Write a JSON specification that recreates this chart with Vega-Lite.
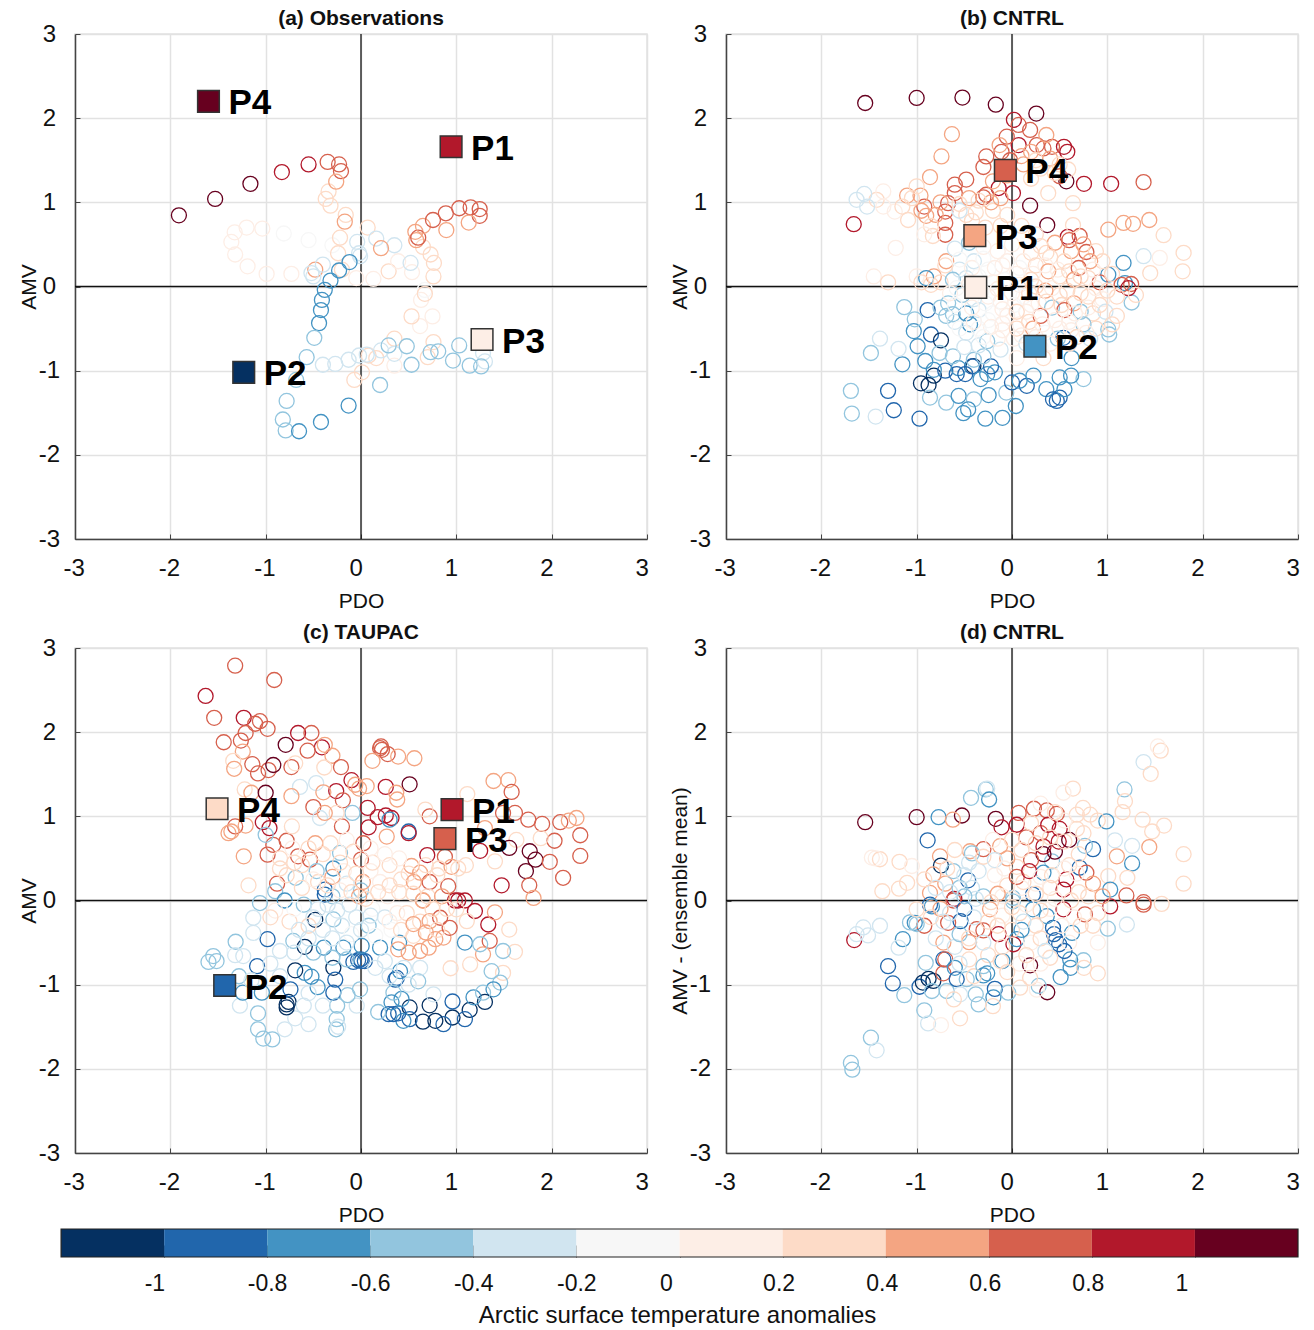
{
"$schema":"https://vega.github.io/schema/vega-lite/v6.json",
"padding":{"left":17,"top":7,"right":0,"bottom":0},
"autosize":{"type":"pad"},
"background":"white",
"config":{"font":"Liberation Sans","view":{"stroke":"#e2e2e2","strokeWidth":1.5},
"axis":{"grid":true,"gridColor":"#e2e2e2","gridWidth":1.5,"domain":true,"domainColor":"#444","domainWidth":1.5,"tickColor":"#444","tickSize":-5,"labelFontSize":24,"labelColor":"#111","titleFontSize":21,"titleFontWeight":"normal","titleColor":"#111","labelFont":"Liberation Sans","titleFont":"Liberation Sans","labelExpr":"''+datum.value"},
"axisX":{"labelAlign":"left","labelOffset":-12,"labelPadding":22,"titlePadding":10,"labelBaseline":"top"},
"axisY":{"labelAlign":"center","labelPadding":31,"titlePadding":-1,"labelBaseline":"middle"},
"title":{"font":"Liberation Sans","fontSize":21,"fontWeight":"bold","color":"#111","offset":-7}},
"datasets":{
"a":[
{"x":-1.325,"y":0.644,"t":0.1},{"x":-1.2,"y":0.7,"t":0.1},{"x":-1.035,"y":0.688,"t":0.1},{"x":-0.81,"y":0.63,"t":-0.1},{"x":-0.55,"y":0.55,"t":-0.1},{"x":-1.36,"y":0.53,"t":0.1},{"x":-1.32,"y":0.38,"t":0.1},{"x":-1.19,"y":0.24,"t":0.1},{"x":-0.99,"y":0.15,"t":0.1},{"x":-0.73,"y":0.15,"t":0.1},
{"x":-0.3,"y":0.49,"t":-0.1},{"x":-0.05,"y":0.1,"t":0.1},{"x":0.13,"y":0.09,"t":0.1},{"x":0.29,"y":0.18,"t":0.3},{"x":0.39,"y":0.3,"t":0.1},{"x":0.535,"y":0.17,"t":0.1},{"x":0.07,"y":0.7,"t":0.3},{"x":0.16,"y":0.57,"t":-0.3},{"x":0.35,"y":0.49,"t":-0.3},{"x":0.52,"y":0.28,"t":-0.3},
{"x":-0.34,"y":1.13,"t":0.3},{"x":-0.37,"y":1.04,"t":0.3},{"x":-0.32,"y":0.96,"t":0.3},{"x":-0.16,"y":0.85,"t":0.3},{"x":-0.22,"y":0.58,"t":0.3},{"x":-0.24,"y":0.395,"t":0.3},{"x":-0.2,"y":0.2,"t":0.3},{"x":-0.48,"y":0.2,"t":0.5},{"x":-0.5,"y":0.12,"t":-0.3},{"x":-0.52,"y":0.16,"t":-0.3},{"x":-0.4,"y":0.26,"t":-0.3},
{"x":-0.04,"y":0.53,"t":-0.3},{"x":-0.02,"y":0.395,"t":-0.3},{"x":-0.01,"y":0.36,"t":-0.3},
{"x":-0.12,"y":0.29,"t":-0.7},{"x":-0.23,"y":0.19,"t":-0.7},{"x":-0.32,"y":0.07,"t":-0.7},{"x":-0.38,"y":-0.04,"t":-0.7},{"x":-0.41,"y":-0.16,"t":-0.7},{"x":-0.42,"y":-0.28,"t":-0.7},{"x":-0.44,"y":-0.435,"t":-0.7},{"x":-0.49,"y":-0.61,"t":-0.5},{"x":-0.57,"y":-0.84,"t":-0.5},{"x":-0.68,"y":-1.11,"t":-0.5},{"x":-0.78,"y":-1.36,"t":-0.5},{"x":-0.82,"y":-1.58,"t":-0.5},{"x":-0.79,"y":-1.71,"t":-0.5},{"x":-0.65,"y":-1.72,"t":-0.7},{"x":-0.42,"y":-1.61,"t":-0.7},{"x":-0.13,"y":-1.415,"t":-0.7},{"x":0.2,"y":-1.17,"t":-0.5},
{"x":0.01,"y":-1.02,"t":0.3},{"x":-0.07,"y":-1.11,"t":0.3},{"x":0.16,"y":-0.85,"t":0.3},{"x":0.08,"y":-0.82,"t":0.3},{"x":0.35,"y":-0.62,"t":0.3},{"x":0.35,"y":-0.94,"t":0.1},{"x":0.76,"y":-0.66,"t":0.3},{"x":0.7,"y":-0.84,"t":0.3},{"x":0.62,"y":-0.47,"t":0.1},{"x":0.53,"y":-0.355,"t":0.3},{"x":0.75,"y":-0.355,"t":0.1},{"x":0.63,"y":-0.16,"t":0.1},{"x":0.67,"y":-0.04,"t":-0.1},{"x":0.67,"y":-0.087,"t":0.3},{"x":0.76,"y":0.12,"t":0.3},{"x":0.765,"y":0.28,"t":0.3},{"x":0.73,"y":0.38,"t":0.3},{"x":0.65,"y":0.47,"t":0.3},
{"x":-0.4,"y":-0.93,"t":-0.3},{"x":-0.27,"y":-0.92,"t":-0.3},{"x":-0.13,"y":-0.87,"t":-0.3},{"x":-0.02,"y":-0.82,"t":-0.3},{"x":0.06,"y":-0.81,"t":-0.3},{"x":0.21,"y":-0.76,"t":-0.3},{"x":0.35,"y":-0.8,"t":-0.3},{"x":0.29,"y":-0.7,"t":-0.5},{"x":0.48,"y":-0.71,"t":-0.5},{"x":0.53,"y":-0.93,"t":-0.5},{"x":0.73,"y":-0.78,"t":-0.5},{"x":0.81,"y":-0.77,"t":-0.5},{"x":1.03,"y":-0.7,"t":-0.5},{"x":0.965,"y":-0.88,"t":-0.5},{"x":1.14,"y":-0.94,"t":-0.5},{"x":1.3,"y":-0.89,"t":-0.3},{"x":1.28,"y":-0.79,"t":-0.3},{"x":1.26,"y":-0.95,"t":-0.5},
{"x":-0.21,"y":1.37,"t":0.7},{"x":-0.23,"y":1.45,"t":0.7},{"x":-0.26,"y":1.245,"t":0.5},{"x":-0.35,"y":1.48,"t":0.7},{"x":-0.55,"y":1.45,"t":0.9},{"x":-0.83,"y":1.36,"t":0.9},{"x":-1.16,"y":1.22,"t":1.1},{"x":-1.53,"y":1.04,"t":1.1},{"x":-1.91,"y":0.846,"t":1.1},
{"x":-0.17,"y":0.77,"t":0.5},{"x":0.21,"y":0.455,"t":0.5},{"x":0.58,"y":0.55,"t":0.5},{"x":0.57,"y":0.65,"t":0.5},{"x":0.6,"y":0.58,"t":0.7},{"x":0.65,"y":0.72,"t":0.5},{"x":0.755,"y":0.79,"t":0.7},{"x":0.89,"y":0.87,"t":0.7},{"x":1.03,"y":0.93,"t":0.7},{"x":1.15,"y":0.94,"t":0.7},{"x":1.245,"y":0.92,"t":0.7},{"x":1.245,"y":0.84,"t":0.7},{"x":1.13,"y":0.76,"t":0.5},{"x":0.895,"y":0.67,"t":0.5}
],
"b":[
{"x":-1.54,"y":2.18,"t":1.1},{"x":-1.0,"y":2.24,"t":1.1},{"x":-0.52,"y":2.245,"t":1.1},{"x":-0.17,"y":2.16,"t":1.1},{"x":0.255,"y":2.055,"t":1.1},{"x":0.19,"y":0.96,"t":1.1},{"x":0.37,"y":0.73,"t":1.1},{"x":0.57,"y":1.25,"t":1.1},
{"x":0.02,"y":1.98,"t":0.9},{"x":-1.66,"y":0.74,"t":0.9},{"x":0.755,"y":1.22,"t":0.9},{"x":1.04,"y":1.22,"t":0.9},{"x":0.01,"y":1.11,"t":0.9},{"x":-0.14,"y":1.17,"t":0.9},{"x":0.545,"y":1.66,"t":0.9},{"x":0.58,"y":1.6,"t":0.9},{"x":0.07,"y":1.68,"t":0.9},{"x":0.585,"y":0.59,"t":0.9},
{"x":1.38,"y":1.24,"t":0.7},{"x":-0.055,"y":1.78,"t":0.7},{"x":0.19,"y":1.86,"t":0.7},{"x":0.07,"y":1.92,"t":0.7},{"x":-0.27,"y":1.545,"t":0.7},{"x":-0.3,"y":1.42,"t":0.7},{"x":-0.48,"y":1.27,"t":0.7},{"x":-0.6,"y":1.21,"t":0.7},{"x":-0.6,"y":1.11,"t":0.7},{"x":-0.92,"y":0.95,"t":0.7},{"x":-0.7,"y":0.89,"t":0.7},{"x":-0.7,"y":0.755,"t":0.7},{"x":-0.7,"y":0.615,"t":0.7},{"x":-0.67,"y":0.99,"t":0.7},{"x":-0.3,"y":1.06,"t":0.7},{"x":-0.27,"y":1.09,"t":0.7},{"x":-0.11,"y":1.6,"t":0.7},{"x":0.26,"y":1.68,"t":0.7},{"x":0.42,"y":1.66,"t":0.7},{"x":0.33,"y":1.64,"t":0.7},{"x":0.5,"y":1.31,"t":0.7},{"x":0.78,"y":0.41,"t":0.7},{"x":0.71,"y":0.6,"t":0.7},
{"x":-0.63,"y":1.81,"t":0.5},{"x":-0.74,"y":1.545,"t":0.5},{"x":-0.86,"y":1.3,"t":0.5},{"x":-0.96,"y":1.08,"t":0.5},{"x":-1.1,"y":1.08,"t":0.5},{"x":-0.9,"y":0.84,"t":0.5},{"x":1.01,"y":0.675,"t":0.5},{"x":1.27,"y":0.745,"t":0.5},{"x":1.44,"y":0.79,"t":0.5},{"x":1.17,"y":0.755,"t":0.5},{"x":1.59,"y":0.61,"t":0.3},{"x":-0.69,"y":0.3,"t":0.5},{"x":-0.13,"y":1.68,"t":0.5},{"x":0.36,"y":1.8,"t":0.5},{"x":0.2,"y":1.6,"t":0.5},{"x":-0.2,"y":1.25,"t":0.5},{"x":-0.05,"y":1.32,"t":0.5},
{"x":1.8,"y":0.4,"t":0.3},{"x":1.79,"y":0.18,"t":0.3},{"x":0.64,"y":0.99,"t":0.3},{"x":0.38,"y":1.11,"t":0.3},{"x":-1.42,"y":1.03,"t":0.3},{"x":-1.35,"y":1.13,"t":0.1},{"x":-1.0,"y":1.19,"t":0.3},{"x":-1.09,"y":0.79,"t":0.3},{"x":1.55,"y":0.34,"t":0.1},{"x":1.45,"y":0.16,"t":0.3},{"x":-0.83,"y":0.6,"t":0.3},{"x":0.59,"y":1.39,"t":0.3},{"x":0.64,"y":0.73,"t":0.3},{"x":0.36,"y":0.4,"t":0.3},{"x":-1.22,"y":0.46,"t":0.1},{"x":-1.23,"y":0.89,"t":0.1},{"x":-1.35,"y":0.95,"t":0.1},{"x":-1.45,"y":0.12,"t":0.1},{"x":-1.0,"y":0.12,"t":0.1},{"x":-1.3,"y":0.05,"t":0.3},{"x":-0.85,"y":0.02,"t":0.3},{"x":-1.63,"y":1.03,"t":-0.3},{"x":-1.55,"y":1.1,"t":-0.3},{"x":-1.52,"y":0.95,"t":-0.3},{"x":1.38,"y":0.36,"t":-0.3},
{"x":-1.48,"y":-0.79,"t":-0.5},{"x":-1.69,"y":-1.24,"t":-0.5},{"x":-1.68,"y":-1.51,"t":-0.5},{"x":-1.43,"y":-1.545,"t":-0.3},{"x":-1.24,"y":-1.47,"t":-0.9},{"x":-1.3,"y":-1.24,"t":-0.9},{"x":-0.97,"y":-1.57,"t":-0.9},{"x":-1.15,"y":-0.925,"t":-0.7},{"x":-1.19,"y":-0.74,"t":-0.3},{"x":-1.385,"y":-0.62,"t":-0.3},{"x":-1.13,"y":-0.245,"t":-0.5},{"x":-0.885,"y":-0.28,"t":-0.9},{"x":-1.03,"y":-0.53,"t":-0.7},{"x":-0.99,"y":-0.71,"t":-0.7},{"x":-0.85,"y":-0.57,"t":-0.9},{"x":-0.745,"y":-0.64,"t":-1.1},{"x":-1.02,"y":-0.39,"t":-0.5},
{"x":-0.955,"y":-1.15,"t":-1.1},{"x":-0.875,"y":-1.17,"t":-1.1},{"x":-0.82,"y":-1.06,"t":-1.1},{"x":-0.405,"y":-0.945,"t":-1.1},{"x":-0.58,"y":-1.04,"t":-0.9},{"x":-0.7,"y":-1.0,"t":-0.9},{"x":-0.91,"y":-0.885,"t":-0.7},{"x":-0.86,"y":-1.32,"t":-0.5},{"x":-0.69,"y":-1.38,"t":-0.5},{"x":-0.56,"y":-1.3,"t":-0.7},{"x":-0.4,"y":-1.34,"t":-0.5},{"x":-0.46,"y":-1.46,"t":-0.7},{"x":-0.51,"y":-1.505,"t":-0.7},{"x":-0.28,"y":-1.57,"t":-0.7},{"x":-0.1,"y":-1.56,"t":-0.7},{"x":-0.245,"y":-1.29,"t":-0.7},{"x":0.04,"y":-1.42,"t":-0.7},{"x":-0.06,"y":-1.26,"t":-0.5},{"x":0.0,"y":-1.14,"t":-0.9},{"x":0.155,"y":-1.18,"t":-0.9},{"x":0.225,"y":-1.06,"t":-0.7},{"x":0.08,"y":-1.12,"t":-0.7},{"x":0.36,"y":-1.22,"t":-0.7},{"x":0.43,"y":-1.34,"t":-0.9},{"x":0.47,"y":-1.36,"t":-0.9},{"x":0.5,"y":-1.32,"t":-0.9},{"x":0.55,"y":-1.22,"t":-0.7},{"x":0.75,"y":-1.1,"t":-0.5},{"x":0.62,"y":-1.06,"t":-0.7},{"x":0.625,"y":-0.85,"t":-0.7},{"x":0.5,"y":-1.08,"t":-0.7},{"x":0.54,"y":-0.61,"t":-0.9},{"x":1.02,"y":-0.57,"t":-0.5},{"x":1.01,"y":-0.51,"t":-0.5},{"x":1.255,"y":-0.19,"t":-0.5},{"x":1.185,"y":0.04,"t":-0.7},{"x":1.17,"y":0.28,"t":-0.7},{"x":1.01,"y":0.14,"t":-0.7},
{"x":-0.42,"y":-0.95,"t":-0.9},{"x":-0.26,"y":-1.04,"t":-0.7},{"x":-0.18,"y":-1.02,"t":-0.7},{"x":-0.56,"y":-0.97,"t":-0.7},{"x":-0.49,"y":-1.04,"t":-0.9},{"x":-0.22,"y":-0.95,"t":-0.9},{"x":-0.3,"y":-0.83,"t":-0.5},{"x":-0.26,"y":-0.65,"t":-0.5},{"x":-0.4,"y":-0.87,"t":-0.5},{"x":-0.67,"y":-0.2,"t":-0.5},{"x":-0.62,"y":-0.33,"t":-0.5},{"x":-0.69,"y":-0.35,"t":-0.5},{"x":-0.44,"y":-0.45,"t":-0.7},{"x":-0.76,"y":-0.79,"t":-0.5},{"x":-0.62,"y":-0.83,"t":-0.5},{"x":-0.82,"y":-0.99,"t":-0.7},{"x":-0.33,"y":-1.1,"t":-0.7},
{"x":0.45,"y":0.52,"t":0.5},{"x":0.6,"y":0.55,"t":0.7},{"x":0.75,"y":0.5,"t":0.5},{"x":0.62,"y":0.42,"t":0.5},{"x":0.88,"y":0.42,"t":0.3},{"x":0.95,"y":0.3,"t":0.3},{"x":0.82,"y":0.3,"t":0.5},{"x":0.7,"y":0.22,"t":0.7},{"x":0.55,"y":0.3,"t":0.3},{"x":0.4,"y":0.35,"t":0.3},{"x":0.3,"y":0.48,"t":0.3},{"x":0.2,"y":0.4,"t":0.3},{"x":0.12,"y":0.3,"t":0.1},{"x":0.25,"y":0.25,"t":0.3},{"x":0.38,"y":0.18,"t":0.5},{"x":0.5,"y":0.12,"t":0.3},{"x":0.65,"y":0.08,"t":0.5},{"x":0.8,"y":0.1,"t":0.3},{"x":0.92,"y":0.05,"t":0.7},{"x":1.05,"y":0.15,"t":0.3},{"x":1.15,"y":0.02,"t":0.7},{"x":1.25,"y":0.03,"t":0.7},{"x":1.22,"y":-0.02,"t":0.9},{"x":1.3,"y":-0.1,"t":0.3},{"x":1.1,"y":-0.12,"t":0.3},{"x":0.95,"y":-0.15,"t":0.1},{"x":0.8,"y":-0.12,"t":0.3},{"x":0.65,"y":-0.2,"t":0.5},{"x":0.5,"y":-0.1,"t":0.3},{"x":0.35,"y":-0.05,"t":0.5},{"x":0.2,"y":0.08,"t":0.3},{"x":0.05,"y":0.15,"t":0.1},{"x":-0.1,"y":0.25,"t":0.1},{"x":-0.25,"y":0.2,"t":-0.1},{"x":-0.4,"y":0.3,"t":-0.3},{"x":-0.55,"y":0.2,"t":-0.3},{"x":-0.7,"y":0.25,"t":0.3},{"x":-0.82,"y":0.12,"t":0.5},{"x":-0.9,"y":0.1,"t":-0.7},{"x":-0.95,"y":0.05,"t":0.3},
{"x":-0.75,"y":0.05,"t":0.3},{"x":-0.62,"y":0.08,"t":-0.5},{"x":-0.48,"y":0.1,"t":-0.3},{"x":-0.35,"y":0.12,"t":-0.1},{"x":-0.2,"y":0.05,"t":0.1},{"x":-0.08,"y":0.08,"t":-0.1},{"x":0.08,"y":0.02,"t":0.1},{"x":0.18,"y":-0.08,"t":0.3},{"x":0.28,"y":-0.2,"t":0.1},{"x":0.42,"y":-0.25,"t":-0.5},{"x":0.55,"y":-0.28,"t":0.7},{"x":0.72,"y":-0.3,"t":-0.5},{"x":0.85,"y":-0.32,"t":0.3},{"x":0.98,"y":-0.3,"t":-0.3},{"x":1.1,"y":-0.35,"t":0.3},{"x":1.05,"y":-0.45,"t":0.3},{"x":0.88,"y":-0.5,"t":0.3},{"x":0.75,"y":-0.45,"t":-0.5},{"x":0.6,"y":-0.42,"t":0.1},{"x":0.45,"y":-0.4,"t":0.1},{"x":0.3,"y":-0.35,"t":0.7},{"x":0.15,"y":-0.3,"t":0.1},{"x":0.02,"y":-0.22,"t":-0.1},{"x":-0.12,"y":-0.18,"t":0.1},{"x":-0.25,"y":-0.12,"t":0.1},{"x":-0.4,"y":-0.15,"t":-0.3},{"x":-0.52,"y":-0.1,"t":-0.5},{"x":-0.65,"y":-0.08,"t":0.1},{"x":-0.75,"y":-0.25,"t":-0.5},{"x":-0.6,"y":-0.42,"t":-0.3},{"x":-0.48,"y":-0.32,"t":-0.7},{"x":-0.35,"y":-0.28,"t":-0.3},{"x":-0.2,"y":-0.32,"t":-0.1},{"x":-0.05,"y":-0.35,"t":0.1},{"x":0.08,"y":-0.45,"t":0.1},{"x":0.22,"y":-0.5,"t":0.5},{"x":0.35,"y":-0.55,"t":-0.1},{"x":0.48,"y":-0.62,"t":-0.5},{"x":0.68,"y":-0.6,"t":0.3},{"x":0.82,"y":-0.62,"t":-0.3},{"x":-0.48,"y":-0.55,"t":-0.3},{"x":-0.35,"y":-0.5,"t":-0.1},{"x":-0.22,"y":-0.48,"t":0.1},{"x":-0.1,"y":-0.52,"t":0.1},{"x":0.02,"y":-0.62,"t":0.1},{"x":0.15,"y":-0.68,"t":-0.3},{"x":0.3,"y":-0.72,"t":-0.1},{"x":-0.12,"y":-0.75,"t":-0.3},{"x":-0.35,"y":-0.7,"t":-0.3},{"x":-0.5,"y":-0.72,"t":-0.3},{"x":0.05,"y":-0.85,"t":0.1},{"x":0.33,"y":-0.85,"t":0.3},{"x":-0.6,"y":0.45,"t":-0.3},{"x":-0.45,"y":0.52,"t":-0.5},{"x":-0.3,"y":0.47,"t":0.1},{"x":-0.15,"y":0.42,"t":0.1},{"x":0.0,"y":0.5,"t":0.1},{"x":-0.48,"y":0.85,"t":0.3},{"x":-0.55,"y":0.9,"t":-0.3},{"x":-0.38,"y":0.88,"t":0.3},{"x":-0.2,"y":0.9,"t":0.3},{"x":-0.05,"y":0.85,"t":0.3},{"x":0.1,"y":0.72,"t":0.3},{"x":0.25,"y":0.62,"t":0.3},{"x":-0.28,"y":0.7,"t":0.3},
{"x":0.1,"y":1.55,"t":0.5},{"x":0.25,"y":1.5,"t":0.3},{"x":0.4,"y":1.52,"t":0.5},{"x":0.5,"y":1.45,"t":0.3},{"x":-0.02,"y":1.5,"t":0.7},{"x":0.12,"y":1.45,"t":0.5},{"x":0.3,"y":1.4,"t":0.3},{"x":0.45,"y":1.35,"t":0.3},{"x":0.2,"y":1.28,"t":0.3},{"x":-0.12,"y":1.05,"t":0.5},{"x":-0.22,"y":1.0,"t":0.5},{"x":-0.35,"y":1.02,"t":0.3},{"x":-0.45,"y":1.05,"t":0.5},{"x":-0.55,"y":0.98,"t":0.3},{"x":-0.42,"y":0.78,"t":0.3},{"x":-0.12,"y":0.72,"t":0.3},{"x":-0.8,"y":0.85,"t":0.5},{"x":-0.75,"y":1.0,"t":0.5},{"x":-0.95,"y":0.9,"t":0.5},{"x":-1.15,"y":0.95,"t":0.3},{"x":-1.05,"y":1.05,"t":0.3},{"x":-0.85,"y":0.72,"t":0.3},{"x":-0.92,"y":0.62,"t":0.1},
{"x":-0.55,"y":0.32,"t":-0.1},{"x":-0.42,"y":0.22,"t":0.1},{"x":-0.3,"y":0.33,"t":-0.1},{"x":-0.18,"y":0.22,"t":0.1},{"x":-0.05,"y":0.3,"t":0.1},{"x":0.08,"y":0.22,"t":-0.1},{"x":0.22,"y":0.15,"t":0.1},{"x":0.35,"y":0.25,"t":0.1},{"x":0.48,"y":0.2,"t":0.1},{"x":0.6,"y":0.18,"t":0.3},{"x":0.72,"y":0.12,"t":0.3},{"x":0.85,"y":0.2,"t":0.1},{"x":-0.58,"y":-0.02,"t":-0.1},{"x":-0.45,"y":0.02,"t":0.1},{"x":-0.32,"y":-0.05,"t":-0.1},{"x":-0.15,"y":-0.03,"t":0.1},{"x":0.0,"y":-0.08,"t":0.1},{"x":0.12,"y":-0.12,"t":-0.1},{"x":0.25,"y":0.0,"t":0.3},{"x":0.42,"y":-0.02,"t":0.1},{"x":0.58,"y":-0.05,"t":0.3},{"x":0.72,"y":-0.08,"t":0.3},{"x":0.88,"y":-0.02,"t":0.1},{"x":1.0,"y":-0.05,"t":0.3},{"x":-0.6,"y":-0.22,"t":-0.1},{"x":-0.42,"y":-0.25,"t":0.1},{"x":-0.28,"y":-0.2,"t":-0.1},{"x":-0.1,"y":-0.27,"t":0.1},{"x":0.05,"y":-0.3,"t":0.3},{"x":0.2,"y":-0.22,"t":0.1},{"x":0.36,"y":-0.18,"t":0.3},{"x":0.52,"y":-0.22,"t":0.3},{"x":0.66,"y":-0.32,"t":0.1},{"x":0.8,"y":-0.25,"t":0.1},{"x":0.92,"y":-0.22,"t":0.3},{"x":-0.55,"y":-0.5,"t":-0.1},{"x":-0.4,"y":-0.42,"t":0.1},{"x":-0.25,"y":-0.4,"t":-0.1},{"x":-0.1,"y":-0.44,"t":0.1},{"x":0.05,"y":-0.5,"t":0.3},{"x":0.18,"y":-0.42,"t":0.3},{"x":0.32,"y":-0.45,"t":0.1},{"x":0.5,"y":-0.5,"t":0.1},{"x":0.62,"y":-0.52,"t":0.1},{"x":0.78,"y":-0.55,"t":0.1},{"x":-0.3,"y":-0.6,"t":-0.1},{"x":-0.15,"y":-0.62,"t":0.1},{"x":0.1,"y":-0.58,"t":0.1},{"x":0.25,"y":-0.6,"t":0.1},{"x":0.4,"y":-0.68,"t":0.1},{"x":0.6,"y":-0.68,"t":0.3}
],
"c":[
{"x":-1.32,"y":2.79,"t":0.7},{"x":-0.91,"y":2.62,"t":0.7},{"x":-1.63,"y":2.43,"t":0.9},{"x":-1.54,"y":2.17,"t":0.7},{"x":-1.23,"y":2.17,"t":0.9},{"x":-1.06,"y":2.13,"t":0.7},{"x":-1.11,"y":2.1,"t":0.7},{"x":-0.98,"y":2.04,"t":0.7},{"x":-1.21,"y":1.99,"t":0.7},{"x":-1.26,"y":1.9,"t":0.7},{"x":-1.44,"y":1.88,"t":0.7},{"x":-1.24,"y":1.77,"t":0.5},{"x":-1.34,"y":1.66,"t":0.3},{"x":-1.33,"y":1.565,"t":0.5},{"x":-1.14,"y":1.62,"t":0.7},{"x":-1.08,"y":1.51,"t":0.7},{"x":-0.97,"y":1.55,"t":0.7},{"x":-0.92,"y":1.61,"t":1.1},{"x":-0.73,"y":1.585,"t":0.7},{"x":-0.79,"y":1.85,"t":1.1},{"x":-0.66,"y":1.99,"t":0.9},{"x":-0.52,"y":1.99,"t":0.7},{"x":-0.41,"y":1.82,"t":0.9},{"x":-0.56,"y":1.78,"t":0.7},{"x":-0.38,"y":1.85,"t":0.5},{"x":-0.3,"y":1.72,"t":0.5},{"x":-0.21,"y":1.585,"t":0.7},{"x":-0.385,"y":1.58,"t":0.3},{"x":-0.69,"y":1.63,"t":0.3},
{"x":0.21,"y":1.83,"t":0.7},{"x":0.2,"y":1.81,"t":0.7},{"x":0.22,"y":1.79,"t":0.7},{"x":0.28,"y":1.74,"t":0.7},{"x":0.12,"y":1.66,"t":0.5},{"x":0.39,"y":1.71,"t":0.5},{"x":0.56,"y":1.69,"t":0.5},
{"x":-0.1,"y":1.43,"t":0.9},{"x":-0.26,"y":1.3,"t":0.9},{"x":-0.19,"y":1.19,"t":0.7},{"x":0.06,"y":1.36,"t":0.5},{"x":-0.06,"y":1.375,"t":0.5},{"x":-0.02,"y":1.33,"t":0.5},{"x":0.26,"y":1.35,"t":0.9},{"x":0.51,"y":1.38,"t":1.1},{"x":0.37,"y":1.28,"t":0.5},{"x":0.38,"y":1.2,"t":0.5},{"x":0.07,"y":1.1,"t":0.9},{"x":0.175,"y":0.99,"t":0.9},{"x":0.32,"y":0.98,"t":0.9},{"x":0.26,"y":1.01,"t":0.9},{"x":0.08,"y":0.87,"t":0.9},
{"x":-0.64,"y":1.35,"t":-0.3},{"x":-0.47,"y":1.395,"t":-0.3},{"x":-0.395,"y":1.285,"t":0.5},{"x":-0.73,"y":1.24,"t":0.5},{"x":-1.22,"y":1.32,"t":0.3},{"x":-1.15,"y":1.28,"t":0.5},{"x":-1.0,"y":1.28,"t":1.1},{"x":-0.5,"y":1.11,"t":0.7},{"x":-1.03,"y":0.93,"t":0.9},{"x":-0.96,"y":0.86,"t":0.9},{"x":-1.32,"y":0.88,"t":0.7},{"x":-1.36,"y":0.82,"t":0.5},{"x":-1.39,"y":0.8,"t":0.5},{"x":-1.21,"y":0.89,"t":0.5},{"x":-1.23,"y":0.525,"t":0.5},{"x":-0.92,"y":0.66,"t":0.7},{"x":-0.78,"y":0.71,"t":0.7},{"x":-0.98,"y":0.545,"t":0.7},{"x":-0.66,"y":0.525,"t":0.7},{"x":-0.535,"y":0.485,"t":0.7},{"x":-0.465,"y":0.35,"t":-0.5},{"x":-0.685,"y":0.27,"t":-0.5},{"x":-0.88,"y":0.2,"t":0.7},{"x":-1.18,"y":0.18,"t":0.3},{"x":-0.9,"y":0.11,"t":-0.5},{"x":-1.0,"y":0.78,"t":-0.5},{"x":-0.725,"y":0.88,"t":0.3},{"x":-0.48,"y":0.68,"t":0.5},{"x":-0.43,"y":0.98,"t":-0.3},{"x":-0.2,"y":0.88,"t":0.7},{"x":-0.09,"y":1.04,"t":-0.5},{"x":-0.255,"y":1.04,"t":0.3},{"x":-0.38,"y":1.04,"t":0.5},
{"x":-0.22,"y":0.565,"t":-0.5},{"x":-0.29,"y":0.38,"t":-0.7},{"x":-0.38,"y":0.13,"t":-0.9},{"x":0.025,"y":0.68,"t":0.7},{"x":0.0,"y":0.486,"t":0.7},{"x":0.27,"y":0.76,"t":0.5},{"x":0.3,"y":0.96,"t":-0.7},{"x":0.5,"y":0.82,"t":-0.9},{"x":0.5,"y":0.8,"t":0.9},
{"x":0.72,"y":1.0,"t":0.7},{"x":0.675,"y":1.08,"t":0.3},{"x":1.115,"y":1.265,"t":0.3},{"x":1.39,"y":1.42,"t":0.5},{"x":1.545,"y":1.43,"t":0.5},{"x":1.58,"y":1.29,"t":0.7},{"x":1.49,"y":1.04,"t":0.7},{"x":1.615,"y":1.04,"t":0.7},{"x":1.755,"y":0.96,"t":0.7},{"x":1.9,"y":0.91,"t":0.7},{"x":2.09,"y":0.93,"t":0.7},{"x":2.18,"y":0.95,"t":0.5},{"x":2.26,"y":0.98,"t":0.5},{"x":2.3,"y":0.775,"t":0.7},{"x":2.3,"y":0.53,"t":0.7},{"x":2.03,"y":0.71,"t":0.7},{"x":1.885,"y":0.74,"t":0.3},{"x":1.63,"y":0.72,"t":0.3},{"x":1.77,"y":0.585,"t":1.1},{"x":1.83,"y":0.485,"t":1.1},{"x":1.73,"y":0.35,"t":1.1},{"x":1.98,"y":0.46,"t":0.7},{"x":2.12,"y":0.27,"t":0.7},{"x":1.475,"y":0.18,"t":0.9},{"x":1.765,"y":0.18,"t":0.7},{"x":1.81,"y":0.03,"t":0.5},{"x":0.695,"y":0.54,"t":0.9},{"x":0.88,"y":0.52,"t":0.7},{"x":1.25,"y":0.59,"t":0.9},{"x":1.555,"y":0.625,"t":1.1},{"x":1.3,"y":0.86,"t":0.5},{"x":1.405,"y":0.465,"t":0.3},
{"x":0.985,"y":0.0,"t":0.9},{"x":1.09,"y":0.0,"t":0.9},{"x":1.02,"y":0.0,"t":0.9},{"x":1.195,"y":-0.125,"t":0.9},{"x":1.335,"y":-0.285,"t":0.9},{"x":1.35,"y":-0.48,"t":0.7},{"x":1.555,"y":-0.345,"t":0.3},{"x":1.615,"y":-0.61,"t":0.3},{"x":1.49,"y":-0.86,"t":0.3},{"x":1.37,"y":-0.84,"t":-0.5},{"x":1.46,"y":-0.975,"t":-0.5},{"x":1.39,"y":-1.055,"t":-0.7},{"x":1.3,"y":-1.205,"t":-1.1},{"x":1.14,"y":-1.3,"t":-1.1},{"x":0.96,"y":-1.39,"t":-1.1},{"x":0.96,"y":-1.2,"t":-0.9},{"x":1.18,"y":-1.15,"t":-0.7},{"x":1.09,"y":-1.41,"t":-0.9},{"x":0.865,"y":-1.47,"t":-0.9},{"x":0.78,"y":-1.43,"t":-1.1},{"x":0.65,"y":-1.44,"t":-1.1},{"x":0.72,"y":-1.245,"t":-1.1},{"x":0.51,"y":-1.27,"t":-1.1},{"x":0.51,"y":-1.41,"t":-0.9},{"x":0.445,"y":-1.43,"t":-0.7},{"x":0.34,"y":-1.35,"t":-0.9},{"x":0.29,"y":-1.35,"t":-0.9},{"x":0.39,"y":-1.34,"t":-0.9},{"x":0.18,"y":-1.325,"t":-0.5},{"x":0.32,"y":-1.21,"t":-0.7},{"x":0.425,"y":-1.17,"t":-0.7},{"x":1.28,"y":-1.095,"t":-0.5},{"x":1.49,"y":-0.6,"t":-0.5},{"x":1.28,"y":-0.64,"t":0.5},{"x":1.145,"y":-0.76,"t":0.3},{"x":0.94,"y":-0.805,"t":0.3},{"x":1.09,"y":-0.5,"t":-0.7},{"x":1.25,"y":-0.52,"t":-0.5},
{"x":0.007,"y":-0.72,"t":-0.9},{"x":-0.03,"y":-0.71,"t":-0.9},{"x":0.04,"y":-0.72,"t":-0.9},{"x":-0.005,"y":-0.7,"t":-0.9},{"x":-0.08,"y":-0.73,"t":-0.9},{"x":-0.185,"y":-0.56,"t":-0.7},{"x":-0.29,"y":-0.8,"t":-1.1},{"x":-0.27,"y":-0.94,"t":-0.9},{"x":-0.29,"y":-1.095,"t":-0.9},{"x":-0.25,"y":-1.25,"t":-0.5},{"x":-0.255,"y":-1.41,"t":-0.5},{"x":-0.26,"y":-1.53,"t":-0.5},{"x":-0.24,"y":-1.5,"t":-0.3},{"x":-0.045,"y":-1.25,"t":-0.3},{"x":-0.01,"y":-1.055,"t":-0.5},{"x":-0.14,"y":-1.125,"t":-0.5},{"x":-0.55,"y":-1.47,"t":-0.3},{"x":-0.69,"y":-1.4,"t":-0.3},{"x":-0.8,"y":-1.53,"t":-0.3},{"x":-0.93,"y":-1.65,"t":-0.5},{"x":-1.025,"y":-1.64,"t":-0.5},{"x":-1.08,"y":-1.53,"t":-0.5},{"x":-1.08,"y":-1.34,"t":-0.5},{"x":-1.27,"y":-1.25,"t":-0.3},{"x":-1.24,"y":-1.095,"t":-0.7},{"x":-0.78,"y":-1.235,"t":-1.1},{"x":-0.76,"y":-1.205,"t":-1.1},{"x":-0.78,"y":-1.27,"t":-1.1},{"x":-0.74,"y":-1.055,"t":-0.9},{"x":-1.04,"y":-1.095,"t":-0.7},{"x":-0.455,"y":-1.03,"t":-0.7},{"x":-0.52,"y":-0.905,"t":-0.7},{"x":-0.59,"y":-0.86,"t":-0.7},{"x":-0.69,"y":-0.83,"t":-1.1},{"x":-1.09,"y":-0.78,"t":-0.9},{"x":-1.28,"y":-0.9,"t":-0.5},{"x":-1.55,"y":-0.66,"t":-0.5},{"x":-1.6,"y":-0.73,"t":-0.5},{"x":-1.515,"y":-0.72,"t":-0.5},{"x":-1.315,"y":-0.49,"t":-0.5},{"x":-1.32,"y":-0.65,"t":-0.3},{"x":-1.235,"y":-0.66,"t":-0.3},{"x":-0.98,"y":-0.46,"t":-0.9},{"x":-0.59,"y":-0.55,"t":-1.1},{"x":-0.48,"y":-0.23,"t":-1.1},{"x":-1.06,"y":-0.03,"t":-0.5},{"x":-0.8,"y":0.0,"t":-0.7},{"x":-1.13,"y":-0.205,"t":-0.3},{"x":-1.13,"y":-0.385,"t":-0.3},{"x":-0.71,"y":-0.48,"t":-0.5},{"x":-0.39,"y":-0.56,"t":-0.7},{"x":-0.29,"y":-0.225,"t":-0.5},{"x":0.375,"y":-0.92,"t":-0.9},{"x":0.36,"y":-0.94,"t":-0.9},{"x":0.41,"y":-0.84,"t":-0.7},{"x":0.6,"y":-0.96,"t":-0.5},{"x":0.34,"y":-1.095,"t":-0.5},{"x":0.76,"y":-1.115,"t":-0.3},{"x":0.62,"y":-0.8,"t":-0.3},{"x":0.4,"y":-0.5,"t":-0.7},{"x":0.2,"y":-0.56,"t":-0.7},{"x":0.007,"y":-0.54,"t":-0.7},{"x":-0.38,"y":0.07,"t":-0.9},
{"x":-0.6,"y":-0.05,"t":-0.5},{"x":-0.45,"y":-0.1,"t":-0.3},{"x":-0.3,"y":0.05,"t":-0.5},{"x":-0.15,"y":0.2,"t":-0.3},{"x":0.0,"y":0.12,"t":-0.5},{"x":0.02,"y":0.22,"t":0.5},{"x":-0.02,"y":0.05,"t":0.5},{"x":-0.12,"y":-0.05,"t":-0.3},{"x":-0.2,"y":-0.3,"t":-0.3},{"x":-0.4,"y":-0.35,"t":-0.3},{"x":-0.55,"y":-0.3,"t":0.3},{"x":-0.75,"y":-0.25,"t":0.3},{"x":-0.9,"y":-0.12,"t":0.1},{"x":-0.62,"y":0.15,"t":0.3},{"x":-0.78,"y":0.3,"t":0.3},{"x":-0.45,"y":0.22,"t":0.3},{"x":-0.3,"y":0.28,"t":0.5},{"x":-0.18,"y":0.35,"t":0.1},{"x":0.1,"y":0.35,"t":0.1},{"x":0.2,"y":0.22,"t":0.1},{"x":0.12,"y":0.45,"t":0.3},{"x":0.3,"y":0.42,"t":0.3},{"x":0.42,"y":0.25,"t":0.3},{"x":0.28,"y":0.05,"t":0.1},{"x":0.12,"y":-0.1,"t":-0.1},{"x":0.25,"y":-0.2,"t":-0.3},{"x":0.08,"y":-0.3,"t":-0.5},{"x":0.32,"y":-0.35,"t":-0.1},{"x":0.48,"y":-0.15,"t":0.3},{"x":0.65,"y":0.0,"t":0.5},{"x":0.62,"y":-0.25,"t":0.3},{"x":0.5,"y":-0.62,"t":0.5},{"x":0.39,"y":-0.58,"t":0.5},{"x":0.62,"y":-0.6,"t":0.5},{"x":0.71,"y":-0.56,"t":0.5},{"x":0.78,"y":-0.46,"t":0.5},{"x":0.865,"y":-0.44,"t":0.5},{"x":0.83,"y":-0.205,"t":0.7},{"x":0.93,"y":-0.325,"t":0.7},{"x":0.72,"y":-0.245,"t":0.5},{"x":1.11,"y":-0.245,"t":0.3},{"x":0.65,"y":0.0,"t":0.5},{"x":1.405,"y":-0.14,"t":0.5},{"x":1.0,"y":-0.105,"t":0.3},{"x":0.95,"y":0.4,"t":0.5},{"x":1.02,"y":0.38,"t":0.3},{"x":1.1,"y":0.42,"t":0.3},{"x":0.72,"y":0.22,"t":0.7},{"x":0.915,"y":0.17,"t":0.7},{"x":0.53,"y":0.41,"t":0.5},{"x":0.62,"y":0.33,"t":0.5},{"x":0.555,"y":0.22,"t":0.5},{"x":0.8,"y":0.3,"t":0.3},{"x":-0.05,"y":0.32,"t":0.3},{"x":-0.62,"y":0.42,"t":0.3},{"x":-0.85,"y":0.38,"t":0.3},{"x":-0.55,"y":0.62,"t":0.3},{"x":-0.32,"y":0.68,"t":0.3},{"x":-0.15,"y":0.72,"t":0.1},{"x":-0.72,"y":0.62,"t":0.1},{"x":-0.95,"y":-0.2,"t":0.3},{"x":-0.55,"y":-0.45,"t":-0.3},{"x":-0.3,"y":-0.45,"t":-0.3},{"x":-0.1,"y":-0.4,"t":-0.1},
{"x":-0.5,"y":0.25,"t":0.1},{"x":-0.35,"y":0.18,"t":0.3},{"x":-0.22,"y":0.12,"t":0.1},{"x":-0.1,"y":0.1,"t":0.3},{"x":0.05,"y":0.02,"t":0.3},{"x":0.18,"y":0.1,"t":0.3},{"x":0.3,"y":0.18,"t":0.3},{"x":0.4,"y":0.1,"t":0.3},{"x":0.55,"y":0.08,"t":0.3},{"x":0.7,"y":0.05,"t":0.3},{"x":0.85,"y":0.05,"t":0.5},{"x":0.5,"y":0.32,"t":0.3},{"x":0.68,"y":0.42,"t":0.3},{"x":0.82,"y":0.38,"t":0.3},{"x":0.4,"y":0.5,"t":0.1},{"x":0.25,"y":0.55,"t":0.1},{"x":0.1,"y":0.62,"t":0.1},{"x":-0.08,"y":0.58,"t":0.3},{"x":-0.22,"y":0.45,"t":0.3},{"x":-0.4,"y":0.55,"t":0.3},{"x":-0.7,"y":0.45,"t":0.3},{"x":-0.85,"y":0.5,"t":0.3},{"x":0.1,"y":-0.18,"t":-0.3},{"x":-0.05,"y":-0.2,"t":-0.3},{"x":-0.25,"y":-0.12,"t":-0.3},{"x":-0.35,"y":-0.05,"t":-0.3},{"x":-0.5,"y":-0.2,"t":-0.3},{"x":-0.7,"y":-0.1,"t":-0.1},{"x":-0.65,"y":-0.35,"t":-0.3},{"x":-0.15,"y":-0.5,"t":-0.3},{"x":0.0,"y":-0.35,"t":-0.3},{"x":0.15,"y":-0.42,"t":-0.1},{"x":0.3,"y":-0.25,"t":0.1},{"x":0.42,"y":-0.35,"t":0.3},{"x":0.55,"y":-0.42,"t":0.3},{"x":0.68,"y":-0.38,"t":0.5},{"x":0.8,"y":-0.35,"t":0.3},{"x":0.55,"y":-0.28,"t":0.5},{"x":0.9,"y":-0.1,"t":0.3},{"x":0.75,"y":-0.1,"t":0.3},{"x":0.38,"y":-0.15,"t":0.1},{"x":-0.5,"y":-0.62,"t":-0.5},{"x":-0.15,"y":-0.7,"t":-0.5},{"x":-0.3,"y":-0.68,"t":-0.5},{"x":0.15,"y":-0.8,"t":-0.3},{"x":0.25,"y":-0.72,"t":-0.3},{"x":0.3,"y":-0.9,"t":-0.3},{"x":0.5,"y":-1.0,"t":-0.3},{"x":0.45,"y":-0.8,"t":-0.3},{"x":-0.7,"y":-0.62,"t":-0.3},{"x":-0.85,"y":-0.6,"t":-0.3},{"x":-0.95,"y":-0.75,"t":-0.3},{"x":-0.85,"y":-0.9,"t":-0.3},{"x":-1.15,"y":-0.95,"t":-0.3},{"x":-0.55,"y":-1.1,"t":-0.3},{"x":-0.4,"y":-1.25,"t":-0.3},{"x":-0.6,"y":-1.25,"t":-0.3}
],
"d":[
{"x":-1.54,"y":0.93,"t":1.1},{"x":-1.0,"y":0.99,"t":1.1},{"x":-0.525,"y":1.01,"t":1.1},{"x":-0.17,"y":0.97,"t":1.1},{"x":-0.77,"y":0.99,"t":-0.7},{"x":-0.885,"y":0.715,"t":-0.9},{"x":-0.43,"y":1.22,"t":-0.5},{"x":-0.275,"y":1.32,"t":-0.5},{"x":-0.26,"y":1.33,"t":-0.3},{"x":-0.24,"y":1.2,"t":-0.7},{"x":0.99,"y":0.94,"t":-0.7},{"x":1.18,"y":1.32,"t":-0.5},{"x":1.38,"y":1.645,"t":-0.3},{"x":1.455,"y":1.505,"t":0.3},{"x":1.56,"y":1.78,"t":0.3},{"x":1.53,"y":1.83,"t":0.1},{"x":-0.62,"y":0.96,"t":0.5},{"x":-0.3,"y":0.61,"t":0.7},{"x":-0.125,"y":0.645,"t":0.5},{"x":-0.11,"y":0.87,"t":0.9},{"x":0.07,"y":1.04,"t":0.7},{"x":0.23,"y":1.09,"t":0.7},{"x":0.365,"y":1.07,"t":0.7},{"x":0.47,"y":1.03,"t":0.7},{"x":0.64,"y":1.33,"t":0.3},{"x":0.54,"y":1.28,"t":0.1},{"x":0.745,"y":1.1,"t":0.3},{"x":0.68,"y":1.02,"t":0.3},{"x":0.82,"y":1.02,"t":0.3},{"x":1.185,"y":1.18,"t":0.3},{"x":1.16,"y":1.05,"t":0.3},{"x":1.37,"y":0.96,"t":0.3},{"x":1.47,"y":0.82,"t":0.3},{"x":1.595,"y":0.89,"t":0.3},{"x":1.44,"y":0.635,"t":0.5},{"x":1.26,"y":0.65,"t":-0.3},{"x":1.08,"y":0.715,"t":-0.3},{"x":0.85,"y":0.61,"t":-0.9},{"x":0.765,"y":0.65,"t":-0.5},{"x":1.1,"y":0.525,"t":0.5},{"x":1.26,"y":0.44,"t":-0.7},{"x":1.21,"y":0.27,"t":0.3},{"x":0.71,"y":0.39,"t":-0.9},{"x":0.78,"y":0.33,"t":0.7},{"x":1.01,"y":0.29,"t":0.3},{"x":1.03,"y":0.13,"t":-0.7},{"x":1.2,"y":0.06,"t":0.7},{"x":1.38,"y":-0.02,"t":0.7},{"x":1.57,"y":-0.04,"t":0.3},{"x":1.8,"y":0.55,"t":0.3},{"x":1.8,"y":0.2,"t":0.3},
{"x":-1.47,"y":0.51,"t":0.1},{"x":-1.385,"y":0.49,"t":0.3},{"x":-1.43,"y":0.5,"t":0.1},{"x":-1.18,"y":0.46,"t":0.3},{"x":-1.05,"y":0.41,"t":0.1},{"x":-1.36,"y":0.11,"t":0.3},{"x":-1.185,"y":0.14,"t":0.3},{"x":-1.1,"y":0.21,"t":0.3},{"x":-0.86,"y":0.09,"t":0.5},{"x":-0.755,"y":0.525,"t":0.5},{"x":-0.745,"y":0.415,"t":-1.1},{"x":-0.825,"y":0.31,"t":0.5},{"x":-0.7,"y":0.2,"t":0.5},{"x":-0.605,"y":0.02,"t":0.9},{"x":-0.615,"y":0.35,"t":-0.5},{"x":-0.44,"y":0.585,"t":0.5},{"x":-0.42,"y":0.56,"t":-0.5},{"x":-0.86,"y":-0.05,"t":-0.9},{"x":-0.46,"y":0.24,"t":-0.9},{"x":0.01,"y":0.03,"t":-0.5},{"x":0.22,"y":0.07,"t":-0.9},{"x":0.57,"y":0.25,"t":0.9},{"x":0.33,"y":0.64,"t":0.9},{"x":0.49,"y":0.7,"t":0.9},{"x":0.42,"y":0.465,"t":-0.5},{"x":0.33,"y":0.33,"t":-0.7},{"x":0.54,"y":0.13,"t":0.9},
{"x":-1.655,"y":-0.47,"t":0.9},{"x":-1.63,"y":-0.4,"t":-0.3},{"x":-1.56,"y":-0.32,"t":-0.3},{"x":-1.51,"y":-0.415,"t":-0.3},{"x":-1.385,"y":-0.3,"t":-0.3},{"x":-1.145,"y":-0.46,"t":-0.7},{"x":-1.19,"y":-0.56,"t":-0.3},{"x":-1.3,"y":-0.78,"t":-0.9},{"x":-1.25,"y":-0.985,"t":-0.9},{"x":-1.13,"y":-1.125,"t":-0.5},{"x":-0.92,"y":-1.305,"t":-0.5},{"x":-0.88,"y":-1.46,"t":-0.3},{"x":-0.745,"y":-1.48,"t":0.1},{"x":-0.545,"y":-1.4,"t":0.3},{"x":-1.48,"y":-1.63,"t":-0.5},{"x":-1.42,"y":-1.78,"t":-0.3},{"x":-1.69,"y":-1.93,"t":-0.5},{"x":-1.675,"y":-2.01,"t":-0.5},
{"x":-0.97,"y":-1.025,"t":-0.9},{"x":-0.935,"y":-0.975,"t":-1.1},{"x":-0.875,"y":-0.93,"t":-1.1},{"x":-0.825,"y":-0.955,"t":-1.1},{"x":-0.84,"y":-1.075,"t":-0.5},{"x":-0.685,"y":-1.075,"t":-0.5},{"x":-0.905,"y":-0.74,"t":-0.5},{"x":-0.72,"y":-0.7,"t":-0.9},{"x":-0.7,"y":-0.7,"t":0.7},{"x":-0.72,"y":-0.865,"t":0.7},{"x":-0.6,"y":-0.8,"t":-0.7},{"x":-0.58,"y":-0.935,"t":-0.9},{"x":-0.475,"y":-0.935,"t":-0.5},{"x":-0.3,"y":-0.89,"t":-0.7},{"x":-0.26,"y":-0.865,"t":-0.7},{"x":-0.1,"y":-0.72,"t":-0.7},{"x":-0.18,"y":-1.05,"t":-0.9},{"x":-0.195,"y":-1.15,"t":-0.7},{"x":-0.04,"y":-1.095,"t":-0.5},{"x":-0.38,"y":-1.115,"t":-0.5},{"x":-0.35,"y":-1.235,"t":-0.5},{"x":-0.545,"y":-1.115,"t":-0.3},{"x":-0.61,"y":-1.175,"t":0.3},{"x":-0.2,"y":-1.255,"t":0.3},{"x":0.19,"y":-0.77,"t":1.1},{"x":0.37,"y":-1.09,"t":1.1},{"x":0.28,"y":-1.015,"t":-0.5},{"x":0.51,"y":-0.91,"t":-0.7},{"x":0.615,"y":-0.8,"t":-0.7},{"x":0.61,"y":-0.7,"t":-0.7},{"x":0.75,"y":-0.71,"t":-0.5},{"x":0.755,"y":-0.8,"t":0.3},{"x":0.9,"y":-0.865,"t":0.3},{"x":0.55,"y":-0.6,"t":-0.9},{"x":0.495,"y":-0.52,"t":-0.9},{"x":0.46,"y":-0.47,"t":-0.9},{"x":0.44,"y":-0.4,"t":-0.9},{"x":0.43,"y":-0.325,"t":-0.9},{"x":0.63,"y":-0.385,"t":-0.7},{"x":1.005,"y":-0.335,"t":-0.5},{"x":1.205,"y":-0.285,"t":-0.3},{"x":0.9,"y":-0.5,"t":0.1},
{"x":-0.14,"y":-0.4,"t":0.9},{"x":0.015,"y":-0.52,"t":0.9},{"x":-0.3,"y":-0.355,"t":0.7},{"x":-0.37,"y":-0.34,"t":0.7},{"x":-0.92,"y":-0.3,"t":0.7},{"x":-1.02,"y":-0.265,"t":-0.7},{"x":-1.0,"y":-0.28,"t":-0.5},{"x":-1.07,"y":-0.26,"t":-0.5},{"x":-0.72,"y":-0.5,"t":0.5},{"x":-0.67,"y":-0.265,"t":0.7},{"x":-0.54,"y":-0.245,"t":-0.9},{"x":-0.45,"y":-0.495,"t":0.5},{"x":0.05,"y":-0.46,"t":-0.7},{"x":0.22,"y":-0.105,"t":-0.7},{"x":0.365,"y":-0.185,"t":-0.7},{"x":0.54,"y":-0.105,"t":0.9},{"x":0.765,"y":-0.165,"t":0.7},{"x":1.03,"y":-0.07,"t":0.9},{"x":1.38,"y":-0.05,"t":0.7},{"x":-0.23,"y":-0.105,"t":0.5},{"x":-0.84,"y":-0.07,"t":-0.7},{"x":-1.0,"y":-0.105,"t":0.3},{"x":-0.615,"y":0.0,"t":0.7},{"x":0.01,"y":-0.01,"t":-0.5},{"x":0.4,"y":-0.68,"t":0.3},{"x":0.19,"y":-0.92,"t":0.3},{"x":0.085,"y":-1.035,"t":0.3},{"x":0.26,"y":-1.06,"t":0.1},
{"x":0.3,"y":0.8,"t":0.7},{"x":0.15,"y":0.75,"t":0.7},{"x":0.05,"y":0.9,"t":0.9},{"x":0.2,"y":0.92,"t":0.3},{"x":0.38,"y":0.9,"t":0.9},{"x":0.5,"y":0.85,"t":0.9},{"x":0.6,"y":0.72,"t":1.1},{"x":0.45,"y":0.58,"t":1.1},{"x":0.33,"y":0.55,"t":1.1},{"x":0.2,"y":0.48,"t":0.7},{"x":0.05,"y":0.4,"t":0.3},{"x":0.1,"y":0.6,"t":0.3},{"x":-0.05,"y":0.5,"t":0.5},{"x":0.68,"y":0.85,"t":0.3},{"x":0.55,"y":0.95,"t":0.1},{"x":0.7,"y":0.55,"t":0.3},{"x":0.6,"y":0.42,"t":0.3},{"x":0.85,"y":0.2,"t":0.5},{"x":0.7,"y":0.1,"t":0.3},{"x":0.4,"y":0.15,"t":0.3},{"x":0.25,"y":0.2,"t":0.1},{"x":0.12,"y":0.22,"t":0.3},{"x":-0.05,"y":0.18,"t":0.3},{"x":-0.18,"y":0.3,"t":0.1},{"x":-0.35,"y":0.35,"t":-0.3},{"x":-0.42,"y":0.15,"t":-0.3},{"x":-0.55,"y":0.15,"t":-0.5},{"x":-0.3,"y":0.05,"t":-0.5},{"x":-0.15,"y":0.08,"t":0.5},{"x":-0.75,"y":-0.1,"t":0.5},{"x":-0.5,"y":-0.1,"t":-0.9},{"x":-0.4,"y":-0.2,"t":-0.3},{"x":-0.25,"y":-0.25,"t":0.3},{"x":-0.1,"y":-0.18,"t":0.1},{"x":0.08,"y":-0.15,"t":0.3},{"x":0.25,"y":-0.3,"t":0.3},{"x":0.4,"y":-0.1,"t":0.1},{"x":0.65,"y":-0.2,"t":0.1},{"x":0.85,"y":-0.3,"t":0.3},{"x":0.6,"y":-0.5,"t":0.1},{"x":0.2,"y":-0.5,"t":0.1},{"x":0.1,"y":-0.35,"t":-0.7},{"x":-0.1,"y":-0.55,"t":0.3},{"x":-0.25,"y":-0.65,"t":0.3},{"x":-0.45,"y":-0.7,"t":0.3},{"x":-0.6,"y":-0.55,"t":-0.3},{"x":-0.8,"y":-0.45,"t":-0.3},{"x":-0.55,"y":-0.4,"t":-0.5},{"x":0.08,"y":-0.75,"t":0.1},{"x":-0.05,"y":-0.85,"t":0.3},{"x":0.3,"y":-0.75,"t":0.1},{"x":-0.4,"y":-0.9,"t":0.3},
{"x":-0.6,"y":0.6,"t":0.3},{"x":-0.45,"y":0.45,"t":-0.3},{"x":-0.3,"y":0.52,"t":0.3},{"x":-0.18,"y":0.48,"t":-0.3},{"x":-0.08,"y":0.38,"t":0.1},{"x":0.05,"y":0.28,"t":0.7},{"x":0.18,"y":0.35,"t":0.9},{"x":0.3,"y":0.28,"t":0.1},{"x":0.42,"y":0.3,"t":0.3},{"x":0.55,"y":0.38,"t":0.1},{"x":0.68,"y":0.32,"t":0.1},{"x":0.1,"y":0.15,"t":0.1},{"x":0.25,"y":0.08,"t":0.3},{"x":0.45,"y":0.02,"t":0.1},{"x":0.62,"y":0.0,"t":0.3},{"x":0.8,"y":0.05,"t":0.3},{"x":0.95,"y":0.05,"t":0.5},{"x":-0.1,"y":0.05,"t":0.1},{"x":-0.22,"y":-0.02,"t":0.3},{"x":-0.38,"y":0.02,"t":-0.3},{"x":-0.5,"y":0.05,"t":-0.5},{"x":-0.65,"y":0.1,"t":-0.3},{"x":-0.8,"y":0.15,"t":-0.3},{"x":-0.92,"y":0.25,"t":0.3},{"x":-0.68,"y":0.38,"t":0.3},{"x":-0.5,"y":0.3,"t":-0.3},{"x":0.0,"y":-0.08,"t":0.3},{"x":0.15,"y":-0.05,"t":0.1},{"x":0.3,"y":-0.12,"t":0.3},{"x":0.52,"y":-0.3,"t":0.1},{"x":0.72,"y":-0.3,"t":0.3},{"x":0.9,"y":-0.15,"t":0.3},{"x":-0.45,"y":-0.45,"t":0.3},{"x":-0.3,"y":-0.5,"t":-0.3},{"x":-0.15,"y":-0.3,"t":0.3},{"x":0.0,"y":-0.35,"t":0.3},{"x":0.12,"y":-0.25,"t":-0.3},{"x":0.3,"y":-0.45,"t":0.3},{"x":0.35,"y":-0.6,"t":-0.3},{"x":0.15,"y":-0.65,"t":0.3},{"x":-0.12,"y":-0.72,"t":0.3},{"x":-0.3,"y":-0.78,"t":-0.5},{"x":-0.55,"y":-0.75,"t":-0.3},{"x":-0.72,"y":-0.25,"t":-0.3},{"x":-0.85,"y":-0.2,"t":0.3},{"x":-0.65,"y":-0.15,"t":-0.3},{"x":0.4,"y":0.75,"t":0.3},{"x":0.55,"y":0.7,"t":0.3},{"x":0.75,"y":0.8,"t":0.3},{"x":0.9,"y":0.95,"t":0.3},{"x":0.25,"y":0.68,"t":0.3},{"x":0.0,"y":0.72,"t":0.3},{"x":-0.2,"y":0.72,"t":0.1},{"x":0.45,"y":1.05,"t":0.3},{"x":0.3,"y":1.15,"t":0.1}
],
"sq":[
{"p":"a","x":0.945,"y":1.66,"t":0.9,"n":"P1"},{"p":"a","x":-1.23,"y":-1.02,"t":-1.1,"n":"P2"},{"p":"a","x":1.27,"y":-0.63,"t":0.1,"n":"P3"},{"p":"a","x":-1.6,"y":2.2,"t":1.1,"n":"P4"},
{"p":"b","x":-0.38,"y":-0.01,"t":0.1,"n":"P1"},{"p":"b","x":0.24,"y":-0.71,"t":-0.7,"n":"P2"},{"p":"b","x":-0.39,"y":0.605,"t":0.5,"n":"P3"},{"p":"b","x":-0.07,"y":1.38,"t":0.7,"n":"P4"},
{"p":"c","x":0.955,"y":1.08,"t":0.9,"n":"P1"},{"p":"c","x":-1.43,"y":-1.01,"t":-0.9,"n":"P2"},{"p":"c","x":0.88,"y":0.735,"t":0.7,"n":"P3"},{"p":"c","x":-1.51,"y":1.09,"t":0.3,"n":"P4"}
],
"bar":[
{"a":-1.2,"b":-1,"t":-1.1},{"a":-1,"b":-0.8,"t":-0.9},{"a":-0.8,"b":-0.6,"t":-0.7},{"a":-0.6,"b":-0.4,"t":-0.5},{"a":-0.4,"b":-0.2,"t":-0.3},{"a":-0.2,"b":0,"t":-0.1},{"a":0,"b":0.2,"t":0.1},{"a":0.2,"b":0.4,"t":0.3},{"a":0.4,"b":0.6,"t":0.5},{"a":0.6,"b":0.8,"t":0.7},{"a":0.8,"b":1,"t":0.9},{"a":1,"b":1.2,"t":1.1}
],
"frame":[{"a":-1.2,"b":1.2}],
"cross":[{"v":0}]
},
"vconcat":[
{"concat":[
{"width":572,"height":505,"title":"(a) Observations","layer":[
{"data":{"name":"cross"},"mark":{"type":"rule","color":"#111","strokeWidth":1.3},"encoding":{"x":{"field":"v","type":"quantitative","scale":{"domain":[-3,3],"nice":false},"axis":{"title":"PDO","values":[-3,-2,-1,0,1,2,3]}}}},
{"data":{"name":"cross"},"mark":{"type":"rule","color":"#111","strokeWidth":1.3},"encoding":{"y":{"field":"v","type":"quantitative","scale":{"domain":[-3,3],"nice":false},"axis":{"title":"AMV","values":[-3,-2,-1,0,1,2,3]}}}},
{"data":{"name":"a"},"mark":{"type":"point","shape":"circle","filled":false,"size":225,"strokeWidth":1.3,"opacity":1},"encoding":{"x":{"field":"x","type":"quantitative"},"y":{"field":"y","type":"quantitative"},"stroke":{"field":"t","type":"quantitative","scale":{"type":"threshold","domain":[-1,-0.8,-0.6,-0.4,-0.2,0,0.2,0.4,0.6,0.8,1],"range":["#053061","#2166ac","#4393c3","#92c5de","#d1e5f0","#f7f7f7","#fdeee6","#fddbc7","#f4a582","#d6604d","#b2182b","#67001f"]},"legend":null}}},
{"data":{"name":"sq"},"transform":[{"filter":"datum.p=='a'"}],"mark":{"type":"point","shape":"square","filled":true,"size":470,"stroke":"#333","strokeWidth":1.5,"opacity":1},"encoding":{"x":{"field":"x","type":"quantitative"},"y":{"field":"y","type":"quantitative"},"fill":{"field":"t","type":"quantitative","scale":{"type":"threshold","domain":[-1,-0.8,-0.6,-0.4,-0.2,0,0.2,0.4,0.6,0.8,1],"range":["#053061","#2166ac","#4393c3","#92c5de","#d1e5f0","#f7f7f7","#fdeee6","#fddbc7","#f4a582","#d6604d","#b2182b","#67001f"]},"legend":null}}},
{"data":{"name":"sq"},"transform":[{"filter":"datum.p=='a'"}],"mark":{"type":"text","align":"left","baseline":"middle","dx":20,"dy":2,"fontSize":35,"fontWeight":"bold","color":"#000"},"encoding":{"x":{"field":"x","type":"quantitative"},"y":{"field":"y","type":"quantitative"},"text":{"field":"n"}}}
]},
{"width":572,"height":505,"title":"(b) CNTRL","layer":[
{"data":{"name":"cross"},"mark":{"type":"rule","color":"#111","strokeWidth":1.3},"encoding":{"x":{"field":"v","type":"quantitative","scale":{"domain":[-3,3],"nice":false},"axis":{"title":"PDO","values":[-3,-2,-1,0,1,2,3]}}}},
{"data":{"name":"cross"},"mark":{"type":"rule","color":"#111","strokeWidth":1.3},"encoding":{"y":{"field":"v","type":"quantitative","scale":{"domain":[-3,3],"nice":false},"axis":{"title":"AMV","values":[-3,-2,-1,0,1,2,3]}}}},
{"data":{"name":"b"},"mark":{"type":"point","shape":"circle","filled":false,"size":225,"strokeWidth":1.3,"opacity":1},"encoding":{"x":{"field":"x","type":"quantitative"},"y":{"field":"y","type":"quantitative"},"stroke":{"field":"t","type":"quantitative","scale":{"type":"threshold","domain":[-1,-0.8,-0.6,-0.4,-0.2,0,0.2,0.4,0.6,0.8,1],"range":["#053061","#2166ac","#4393c3","#92c5de","#d1e5f0","#f7f7f7","#fdeee6","#fddbc7","#f4a582","#d6604d","#b2182b","#67001f"]},"legend":null}}},
{"data":{"name":"sq"},"transform":[{"filter":"datum.p=='b'"}],"mark":{"type":"point","shape":"square","filled":true,"size":470,"stroke":"#333","strokeWidth":1.5,"opacity":1},"encoding":{"x":{"field":"x","type":"quantitative"},"y":{"field":"y","type":"quantitative"},"fill":{"field":"t","type":"quantitative","scale":{"type":"threshold","domain":[-1,-0.8,-0.6,-0.4,-0.2,0,0.2,0.4,0.6,0.8,1],"range":["#053061","#2166ac","#4393c3","#92c5de","#d1e5f0","#f7f7f7","#fdeee6","#fddbc7","#f4a582","#d6604d","#b2182b","#67001f"]},"legend":null}}},
{"data":{"name":"sq"},"transform":[{"filter":"datum.p=='b'"}],"mark":{"type":"text","align":"left","baseline":"middle","dx":20,"dy":2,"fontSize":35,"fontWeight":"bold","color":"#000"},"encoding":{"x":{"field":"x","type":"quantitative"},"y":{"field":"y","type":"quantitative"},"text":{"field":"n"}}}
]},
{"width":572,"height":505,"title":"(c) TAUPAC","layer":[
{"data":{"name":"cross"},"mark":{"type":"rule","color":"#111","strokeWidth":1.3},"encoding":{"x":{"field":"v","type":"quantitative","scale":{"domain":[-3,3],"nice":false},"axis":{"title":"PDO","values":[-3,-2,-1,0,1,2,3]}}}},
{"data":{"name":"cross"},"mark":{"type":"rule","color":"#111","strokeWidth":1.3},"encoding":{"y":{"field":"v","type":"quantitative","scale":{"domain":[-3,3],"nice":false},"axis":{"title":"AMV","values":[-3,-2,-1,0,1,2,3]}}}},
{"data":{"name":"c"},"mark":{"type":"point","shape":"circle","filled":false,"size":225,"strokeWidth":1.3,"opacity":1},"encoding":{"x":{"field":"x","type":"quantitative"},"y":{"field":"y","type":"quantitative"},"stroke":{"field":"t","type":"quantitative","scale":{"type":"threshold","domain":[-1,-0.8,-0.6,-0.4,-0.2,0,0.2,0.4,0.6,0.8,1],"range":["#053061","#2166ac","#4393c3","#92c5de","#d1e5f0","#f7f7f7","#fdeee6","#fddbc7","#f4a582","#d6604d","#b2182b","#67001f"]},"legend":null}}},
{"data":{"name":"sq"},"transform":[{"filter":"datum.p=='c'"}],"mark":{"type":"point","shape":"square","filled":true,"size":470,"stroke":"#333","strokeWidth":1.5,"opacity":1},"encoding":{"x":{"field":"x","type":"quantitative"},"y":{"field":"y","type":"quantitative"},"fill":{"field":"t","type":"quantitative","scale":{"type":"threshold","domain":[-1,-0.8,-0.6,-0.4,-0.2,0,0.2,0.4,0.6,0.8,1],"range":["#053061","#2166ac","#4393c3","#92c5de","#d1e5f0","#f7f7f7","#fdeee6","#fddbc7","#f4a582","#d6604d","#b2182b","#67001f"]},"legend":null}}},
{"data":{"name":"sq"},"transform":[{"filter":"datum.p=='c'"}],"mark":{"type":"text","align":"left","baseline":"middle","dx":20,"dy":2,"fontSize":35,"fontWeight":"bold","color":"#000"},"encoding":{"x":{"field":"x","type":"quantitative"},"y":{"field":"y","type":"quantitative"},"text":{"field":"n"}}}
]},
{"width":572,"height":505,"title":"(d) CNTRL","layer":[
{"data":{"name":"cross"},"mark":{"type":"rule","color":"#111","strokeWidth":1.3},"encoding":{"x":{"field":"v","type":"quantitative","scale":{"domain":[-3,3],"nice":false},"axis":{"title":"PDO","values":[-3,-2,-1,0,1,2,3]}}}},
{"data":{"name":"cross"},"mark":{"type":"rule","color":"#111","strokeWidth":1.3},"encoding":{"y":{"field":"v","type":"quantitative","scale":{"domain":[-3,3],"nice":false},"axis":{"title":"AMV - (ensemble mean)","values":[-3,-2,-1,0,1,2,3]}}}},
{"data":{"name":"d"},"mark":{"type":"point","shape":"circle","filled":false,"size":225,"strokeWidth":1.3,"opacity":1},"encoding":{"x":{"field":"x","type":"quantitative"},"y":{"field":"y","type":"quantitative"},"stroke":{"field":"t","type":"quantitative","scale":{"type":"threshold","domain":[-1,-0.8,-0.6,-0.4,-0.2,0,0.2,0.4,0.6,0.8,1],"range":["#053061","#2166ac","#4393c3","#92c5de","#d1e5f0","#f7f7f7","#fdeee6","#fddbc7","#f4a582","#d6604d","#b2182b","#67001f"]},"legend":null}}}
]}
],"columns":2,"spacing":{"row":109,"column":79},"bounds":"flush"},
{"width":1223,"height":28,"view":{"stroke":null},"layer":[
{"data":{"name":"bar"},"mark":{"type":"rect"},"encoding":{"x":{"field":"a","type":"quantitative","scale":{"domain":[-1.173,1.2],"nice":false},"axis":{"title":"Arctic surface temperature anomalies","titleFontSize":24,"values":[-1,-0.8,-0.6,-0.4,-0.2,0,0.2,0.4,0.6,0.8,1],"grid":false,"domain":false,"labelAlign":"left","labelOffset":-20,"labelFontSize":23,"labelPadding":27,"tickSize":-12,"titleX":602,"titleY":58,"titleBaseline":"middle","titleAlign":"center"}},"x2":{"field":"b"},"fill":{"field":"t","type":"quantitative","scale":{"type":"threshold","domain":[-1,-0.8,-0.6,-0.4,-0.2,0,0.2,0.4,0.6,0.8,1],"range":["#053061","#2166ac","#4393c3","#92c5de","#d1e5f0","#f7f7f7","#fdeee6","#fddbc7","#f4a582","#d6604d","#b2182b","#67001f"]},"legend":null}}},
{"data":{"name":"frame"},"mark":{"type":"rect","fill":null,"stroke":"#222","strokeWidth":1.2},"encoding":{"x":{"field":"a","type":"quantitative"},"x2":{"field":"b"}}}
]}
],
"spacing":2
}
